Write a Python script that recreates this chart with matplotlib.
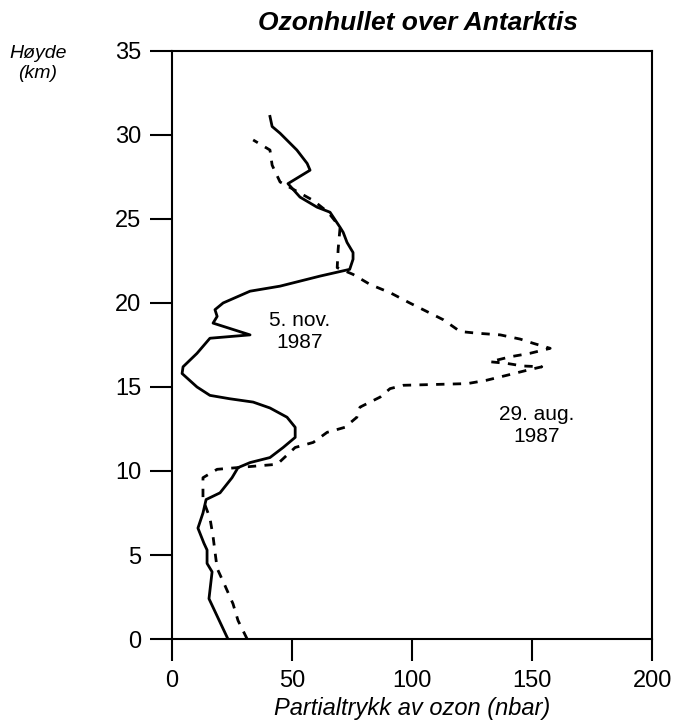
import matplotlib
matplotlib.use("Agg")
import matplotlib.pyplot as plt

plt.rcParams['font.family'] = ['Liberation Sans', 'DejaVu Sans']

plot_title = "Ozonhullet over Antarktis"

# 5. nov. 1987 (solid line), ozone partial pressure vs height
nov_ozone = [23.3, 15.4, 16.7, 14.6, 14.6, 13.3, 10.8, 12.9, 14.2, 20.0, 25.0, 27.5,
             32.5, 40.8, 46.3, 51.3, 51.3, 47.9, 40.8, 33.8, 24.0, 15.8, 10.4, 4.2,
             4.6, 10.4, 15.8, 32.5, 17.1, 18.8, 17.9, 21.3, 32.5, 45.0, 61.7, 74.0,
             75.4, 75.4, 72.9, 71.3, 70.0, 65.8, 60.4, 53.3, 48.3, 57.5, 56.3, 52.0,
             45.0, 41.7, 40.8]
nov_height = [0.0, 2.4, 4.0, 4.5, 5.3, 5.7, 6.6, 7.5, 8.3, 8.7, 9.6, 10.2,
              10.5, 10.8, 11.4, 12.0, 12.6, 13.2, 13.75, 14.1, 14.3, 14.5, 15.0, 15.8,
              16.2, 17.0, 17.9, 18.1, 18.8, 19.2, 19.6, 20.0, 20.7, 21.0, 21.6, 22.0,
              22.6, 23.0, 23.6, 24.2, 24.5, 25.4, 25.7, 26.3, 27.1, 27.9, 28.3, 29.1,
              30.1, 30.5, 31.1]

# 29. aug. 1987 (dashed line)
aug_ozone = [31.3, 27.5, 25.4, 22.0, 18.8, 17.9, 17.1, 15.8, 12.9, 12.9, 18.8, 43.8,
             51.3, 58.8, 64.6, 72.0, 77.0, 78.3, 86.7, 90.8, 96.3, 123.0, 131.0, 139.6,
             148.0, 154.0, 146.0, 139.6, 132.5, 141.0, 149.0, 157.5, 150.4, 145.0, 136.7,
             127.0, 120.0, 113.0, 106.0, 99.0, 91.0, 82.5, 75.4, 68.8, 69.2, 70.0, 65.0,
             58.8, 45.0, 41.7, 40.8, 33.8]
aug_height = [0.0, 1.1, 2.1, 3.2, 4.2, 5.2, 6.1, 7.2, 8.3, 9.6, 10.1, 10.4,
              11.4, 11.7, 12.3, 12.6, 13.2, 13.8, 14.4, 14.9, 15.1, 15.2, 15.4, 15.7,
              16.0, 16.2, 16.25, 16.4, 16.5, 16.8, 17.0, 17.3, 17.6, 17.85, 18.1,
              18.2, 18.3, 19.0, 19.5, 20.0, 20.6, 21.1, 21.7, 22.1, 23.2, 24.5, 25.4,
              26.1, 27.2, 28.2, 29.1, 29.7]

x_ticks = [0, 50, 100, 150, 200]
y_ticks = [0, 5, 10, 15, 20, 25, 30, 35]

fig = plt.figure(figsize=(6.88, 7.27), dpi=100)
ax = fig.add_axes([0.25, 0.121, 0.698, 0.809])

ax.plot(nov_ozone, nov_height, color='black', lw=2)
ax.plot(aug_ozone, aug_height, color='black', lw=2, linestyle=(0, (3, 3)))

ax.set_xlim(0, 200)
ax.set_ylim(0, 35)
ax.set_xticks(x_ticks)
ax.set_yticks(y_ticks)
ax.tick_params(axis='both', direction='out', length=16, width=1.5,
               labelsize=17, pad=6)
for s in ax.spines.values():
    s.set_linewidth(1.5)

ax.text(53, 18.3, "5. nov.\n1987", ha='center', va='center', fontsize=15,
        linespacing=1.2)
ax.text(152, 12.7, "29. aug.\n1987", ha='center', va='center', fontsize=15,
        linespacing=1.25)

fig.text(0.607, 0.968, plot_title, ha='center', va='center', fontsize=19,
         style='italic', fontweight='bold')
fig.text(0.055, 0.913, "Høyde\n(km)", ha='center', va='center', fontsize=14,
         style='italic', linespacing=1.25)
ax.set_xlabel("Partialtrykk av ozon (nbar)", fontsize=17, style='italic',
              labelpad=4)

fig.savefig("out.png", dpi=100)
